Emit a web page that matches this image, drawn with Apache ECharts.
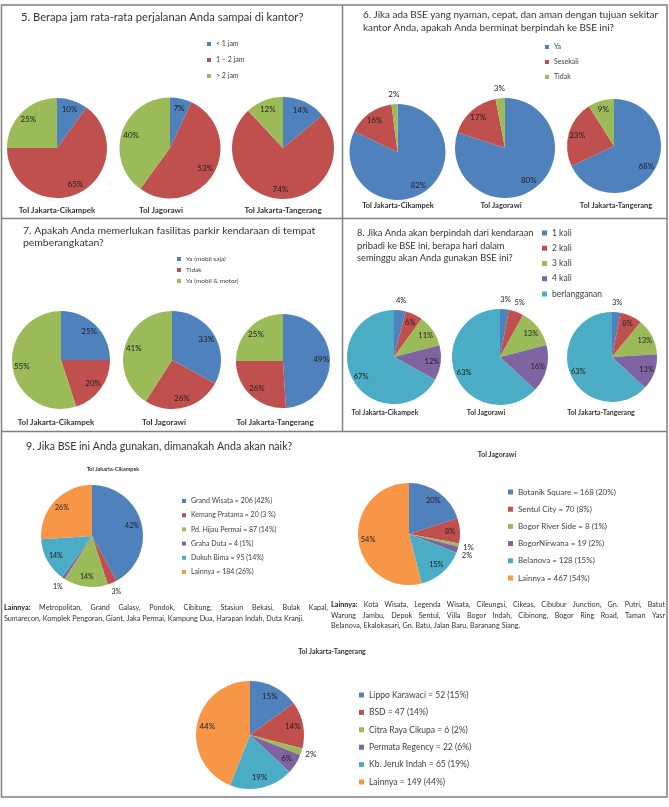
<!DOCTYPE html>
<html><head><meta charset="utf-8">
<script src="https://cdn.jsdelivr.net/npm/echarts@6/dist/echarts.min.js"></script>
<style>html,body{margin:0;padding:0;background:#fff}#c{width:669px;height:807px}</style>
</head><body><div id="c"></div>
<script>
// ================= DATA =================
const pieTitles = ['Tol Jakarta-Cikampek', 'Tol Jagorawi', 'Tol Jakarta-Tangerang'];

const q5Title = ['5. Berapa jam rata-rata perjalanan Anda sampai di kantor?'];
const q5Categories = ['< 1 jam', '1 – 2 jam', '> 2 jam'];
const q5Cikampek = [10, 65, 25];
const q5Jagorawi = [7, 53, 40];
const q5Tangerang = [14, 74, 12];

const q6Title = ['6. Jika ada BSE yang nyaman, cepat, dan aman dengan tujuan sekitar',
                 'kantor Anda, apakah Anda berminat berpindah ke BSE ini?'];
const q6Categories = ['Ya', 'Sesekali', 'Tidak'];
const q6Cikampek = [82, 16, 2];
const q6Jagorawi = [80, 17, 3];
const q6Tangerang = [68, 23, 9];

const q7Title = ['7. Apakah Anda memerlukan fasilitas parkir kendaraan di tempat',
                 'pemberangkatan?'];
const q7Categories = ['Ya (mobil saja)', 'Tidak', 'Ya (mobil & motor)'];
const q7Cikampek = [25, 20, 55];
const q7Jagorawi = [33, 26, 41];
const q7Tangerang = [49, 26, 25];

const q8Title = ['8. Jika Anda akan berpindah dari kendaraan',
                 'pribadi ke BSE ini, berapa hari dalam',
                 'seminggu akan Anda gunakan BSE ini?'];
const q8Categories = ['1 kali', '2 kali', '3 kali', '4 kali', 'berlangganan'];
const q8Cikampek = [4, 6, 11, 12, 67];
const q8Jagorawi = [3, 5, 13, 16, 63];
const q8Tangerang = [3, 8, 13, 13, 63];

const q9Title = ['9. Jika BSE ini Anda gunakan, dimanakah Anda akan naik?'];
const q9CikampekNames = ['Grand Wisata = 206 (42%)', 'Kemang Pratama = 20 (3 %)', 'Pd. Hijau Permai = 87 (14%)',
                         'Graha Duta = 4 (1%)', 'Dukuh Bima = 95 (14%)', 'Lainnya = 184 (26%)'];
const q9CikampekPct = [42, 3, 14, 1, 14, 26];
const q9JagorawiNames = ['Botanik Square = 168 (20%)', 'Sentul City = 70 (8%)', 'Bogor River Side = 8 (1%)',
                         'BogorNirwana = 19 (2%)', 'Belanova = 128 (15%)', 'Lainnya = 467 (54%)'];
const q9JagorawiPct = [20, 8, 1, 2, 15, 54];
const q9TangerangNames = ['Lippo Karawaci = 52 (15%)', 'BSD = 47 (14%)', 'Citra Raya Cikupa = 6 (2%)',
                          'Permata Regency = 22 (6%)', 'Kb. Jeruk Indah = 65 (19%)', 'Lainnya = 149 (44%)'];
const q9TangerangPct = [15, 14, 2, 6, 19, 44];

const noteLabel = 'Lainnya:';
const noteCikampek = ['Metropolitan, Grand Galasy, Pondok, Cibitung, Stasiun Bekasi, Bulak Kapal,',
                      'Sumarecon, Komplek Pengoran, Giant, Jaka Permai, Kampung Dua, Harapan Indah, Duta Kranji.'];
const noteJagorawi = ['Kota Wisata, Legenda Wisata, Cileungsi, Cikeas, Cibubur Junction, Gn. Putri, Batut',
                      'Warung Jambu, Depok Sentul, Villa Bogor Indah, Cibinong, Bogor Ring Road, Taman Yasr',
                      'Belanova, Ekalokasari, Gn. Batu, Jalan Baru, Baranang Siang.'];

// ================= STYLE / LAYOUT =================
const FONT_NAME = 'Lato';
const F = 'Lato, "Noto Sans", sans-serif';
const PALETTE = ['#4F81BD', '#C0504D', '#9BBB59', '#8064A2', '#4BACC6', '#F79646'];
const LABEL_COLOR = '#222';
const OUTSIDE_LIMIT = 5;

const baseSeries = [];
const labelSeries = [];
const legends = [];
const graphics = [];

function addPie(names, values, cx, cy, r, fs, shiftOutside) {
  baseSeries.push({
    type: 'pie', center: [cx, cy], radius: [0, r], silent: true,
    data: names.map((n, i) => ({ name: n, value: values[i], itemStyle: { color: PALETTE[i] } })),
    label: { show: false }, labelLine: { show: false },
    itemStyle: { borderWidth: 0 }, emphasis: { disabled: true }
  });
  const lab = { show: true, position: 'inside', formatter: '{c}%', fontSize: fs, fontFamily: F, color: LABEL_COLOR };
  labelSeries.push({
    type: 'pie', center: [cx, cy], radius: [r * 0.5, r], silent: true,
    data: names.map((n, i) => ({ name: n, value: values[i], label: { show: values[i] > OUTSIDE_LIMIT } })),
    itemStyle: { color: 'rgba(0,0,0,0)' }, label: lab, labelLine: { show: false },
    emphasis: { disabled: true }
  });
  const outer = {
    type: 'pie', center: [cx, cy], radius: [r, r + 14], silent: true,
    data: names.map((n, i) => ({ name: n, value: values[i], label: { show: values[i] <= OUTSIDE_LIMIT } })),
    itemStyle: { color: 'rgba(0,0,0,0)' }, label: lab, labelLine: { show: false },
    emphasis: { disabled: true }
  };
  if (shiftOutside) outer.labelLayout = { moveOverlap: 'shiftY' };
  labelSeries.push(outer);
}

function addLegend(names, left, top, fs, lh, gap, icon) {
  legends.push({
    orient: 'vertical', left, top, padding: 0,
    data: names.map((n, i) => ({ name: n, itemStyle: { color: PALETTE[i] } })),
    icon: 'rect', itemWidth: icon, itemHeight: icon, itemGap: gap, selectedMode: false,
    textStyle: { fontSize: fs, lineHeight: lh, color: '#404040', fontFamily: F }
  });
}

function addText(text, x, y, size, opt) {
  opt = opt || {};
  graphics.push({
    type: 'text', x, y, silent: true,
    style: {
      text, fontSize: size, fontFamily: F, fontWeight: opt.bold ? 'bold' : 'normal',
      fill: opt.color || '#333', textAlign: opt.align || 'left', align: opt.align || 'left',
      textVerticalAlign: 'middle', verticalAlign: 'middle'
    }
  });
}

function addLines(lines, x, y0, step, size) {
  lines.forEach((t, i) => addText(t, x, y0 + i * step, size));
}

// justified paragraph (text layout only)
const mctx = document.createElement('canvas').getContext('2d');
function measure(word, size, bold) {
  mctx.font = (bold ? 'bold ' : '') + size + 'px ' + FONT_NAME;
  return mctx.measureText(word).width;
}
function addParagraph(label, lines, x, y0, step, width, size) {
  lines.forEach((line, li) => {
    const words = line.split(' ').map(w => ({ w, bold: false }));
    if (li === 0) words.unshift({ w: label, bold: true });
    const widths = words.map(o => measure(o.w, size, o.bold));
    const total = widths.reduce((a, b) => a + b, 0);
    const isLast = li === lines.length - 1;
    const gap = isLast ? measure(' ', size, false) * 1.1 : (width - total) / (words.length - 1);
    let cx = x;
    words.forEach((o, k) => {
      addText(o.w, cx, y0 + li * step, size, { bold: o.bold, color: o.bold ? '#222' : '#333' });
      cx += widths[k] + gap;
    });
  });
}

// Panel 5
addLines(q5Title, 21, 17, 13, 11.2);
addLegend(q5Categories, 207, 39, 7, 10, 6, 4);
addPie(q5Categories, q5Cikampek, 57, 148, 50, 8);
addPie(q5Categories, q5Jagorawi, 170, 148, 50.5, 8);
addPie(q5Categories, q5Tangerang, 283, 148, 51, 8);
[[57, 210], [161, 210], [283, 210]].forEach((p, i) => addText(pieTitles[i], p[0], p[1], 8, { bold: true, align: 'center' }));

// Panel 6
addLines(q6Title, 363, 15, 13, 9.9);
addLegend(q6Categories, 545, 42, 7, 10, 5, 4);
addPie(q6Categories, q6Cikampek, 397.5, 152, 48, 8);
addPie(q6Categories, q6Jagorawi, 505, 148, 50, 8);
addPie(q6Categories, q6Tangerang, 614, 146, 47, 8);
[[398, 206], [501, 206], [616, 206]].forEach((p, i) => addText(pieTitles[i], p[0], p[1], 7.5, { bold: true, align: 'center' }));

// Panel 7
addLines(q7Title, 23, 231, 12, 10.4);
addLegend(q7Categories, 177, 254.5, 6.5, 9, 2, 4);
addPie(q7Categories, q7Cikampek, 61, 360, 49, 8);
addPie(q7Categories, q7Jagorawi, 172, 360, 49, 8);
addPie(q7Categories, q7Tangerang, 283, 361, 47, 8);
[[56, 422], [164, 422], [275, 422]].forEach((p, i) => addText(pieTitles[i], p[0], p[1], 8, { bold: true, align: 'center' }));

// Panel 8
addLines(q8Title, 357, 233, 12.5, 9.3);
addLegend(q8Categories, 542, 228, 8.5, 10, 5.25, 5);
addPie(q8Categories, q8Cikampek, 394, 357, 47, 7.5);
addPie(q8Categories, q8Jagorawi, 500, 357, 48, 7.5);
addPie(q8Categories, q8Tangerang, 612, 357, 45, 7.5);
[[385, 413], [486, 413], [601, 413]].forEach((p, i) => addText(pieTitles[i], p[0], p[1], 7, { bold: true, align: 'center' }));

// Panel 9
addLines(q9Title, 26, 447, 13, 10.6);
addText(pieTitles[0], 113, 469, 5.5, { bold: true, align: 'center' });
addLegend(q9CikampekNames, 182, 496, 7, 10, 4.2, 4);
addPie(q9CikampekNames, q9CikampekPct, 92, 536, 51, 7);

addText(pieTitles[1], 497, 455, 7, { bold: true, align: 'center' });
addLegend(q9JagorawiNames, 508, 487, 8, 10, 7.2, 5);
addPie(q9JagorawiNames, q9JagorawiPct, 409, 534, 51, 7.5, true);

addText(pieTitles[2], 332, 652, 7, { bold: true, align: 'center' });
addLegend(q9TangerangNames, 359, 690, 8.5, 10, 7.4, 5);
addPie(q9TangerangNames, q9TangerangPct, 250, 735, 54, 8);

addParagraph(noteLabel, noteCikampek, 4, 608, 10.5, 324, 7.2);
addParagraph(noteLabel, noteJagorawi, 331, 605, 10.5, 334, 7.2);

// Borders
const lineStyle = { stroke: '#7f7f7f', lineWidth: 1.5 };
graphics.push({ type: 'rect', silent: true, shape: { x: 1.5, y: 5, width: 665.5, height: 792 }, style: Object.assign({ fill: 'none' }, lineStyle) });
graphics.push({ type: 'line', silent: true, shape: { x1: 1.5, y1: 218.5, x2: 667, y2: 218.5 }, style: lineStyle });
graphics.push({ type: 'line', silent: true, shape: { x1: 1.5, y1: 431.5, x2: 667, y2: 431.5 }, style: lineStyle });
graphics.push({ type: 'line', silent: true, shape: { x1: 342.5, y1: 5, x2: 342.5, y2: 431.5 }, style: lineStyle });

const chart = echarts.init(document.getElementById('c'), null, { renderer: 'canvas' });
chart.setOption({
  animation: false,
  color: PALETTE,
  backgroundColor: '#fff',
  legend: legends,
  series: baseSeries.concat(labelSeries),
  graphic: { elements: graphics }
});
</script>
</body></html>
